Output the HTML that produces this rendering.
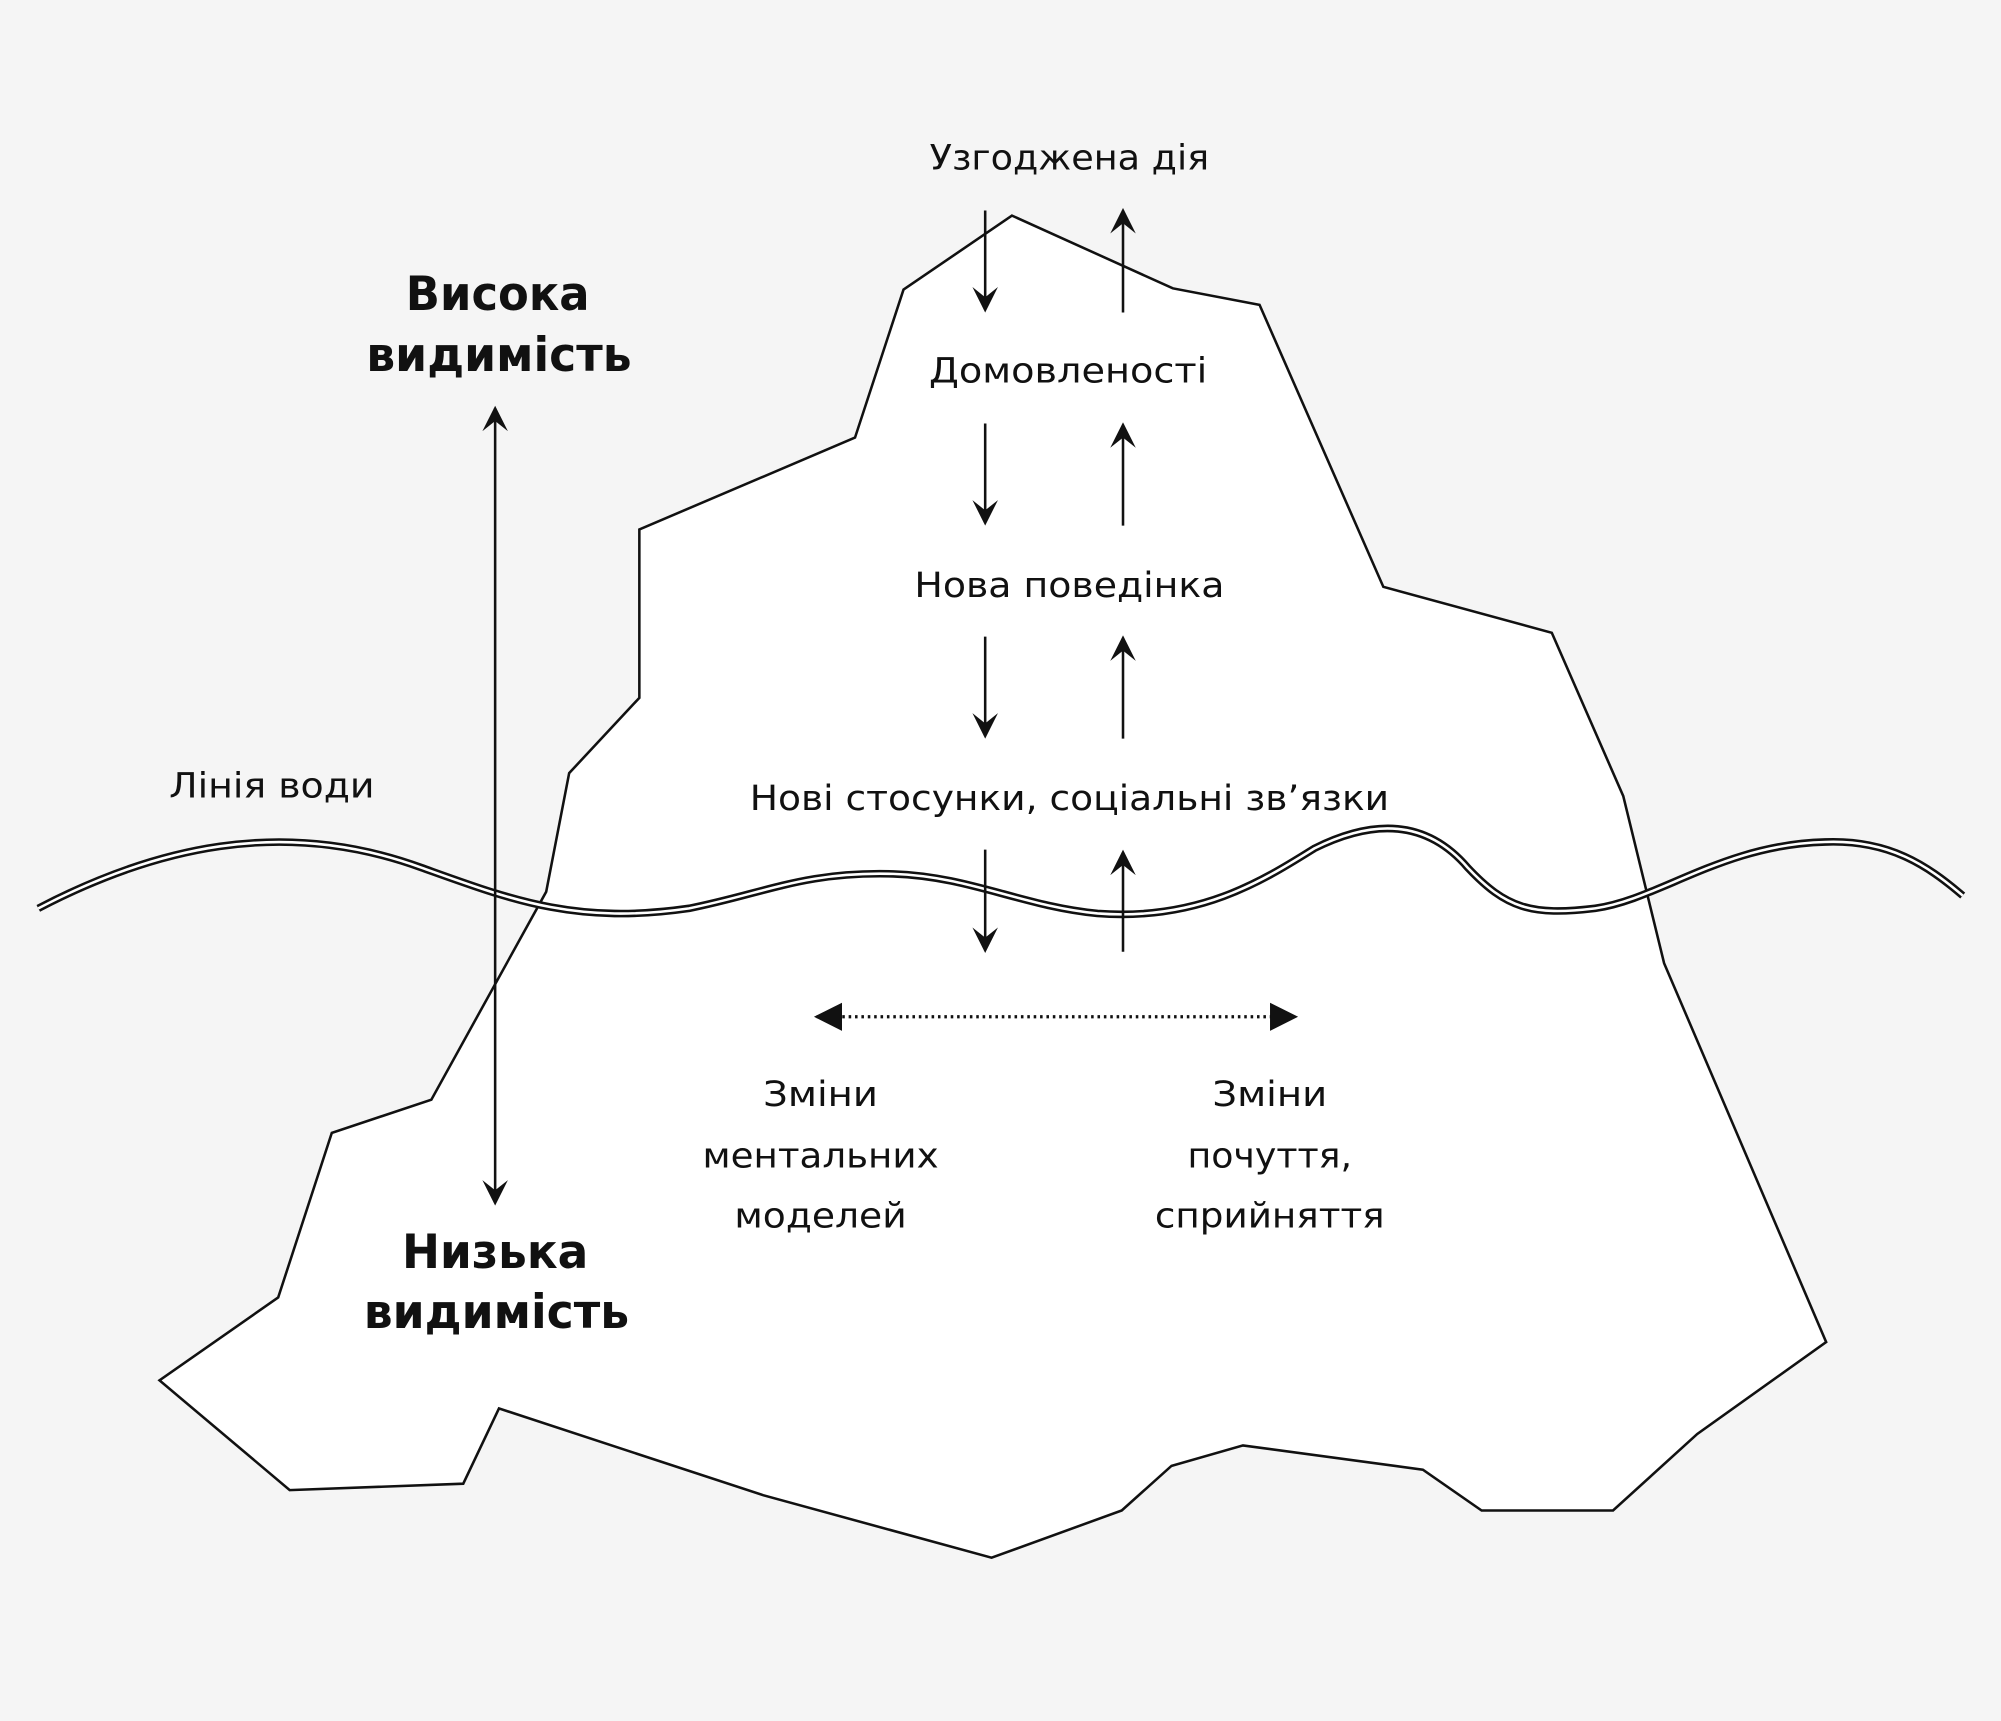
<!DOCTYPE html>
<html><head><meta charset="utf-8"><style>
html,body{margin:0;padding:0;background:#f5f5f5;}
svg{display:block;}
text{font-family:"DejaVu Sans","Liberation Sans",sans-serif;fill:#111;}
</style></head><body>
<svg width="2001" height="1721" viewBox="0 0 1568 1349" preserveAspectRatio="none" xmlns="http://www.w3.org/2000/svg">
<defs>
<marker id="ah2" viewBox="0 0 10 10" refX="9" refY="5" markerWidth="34" markerHeight="22" markerUnits="userSpaceOnUse" orient="auto-start-reverse">
<path d="M0,0 L10,5 L0,10 z" fill="#111"/></marker>
<marker id="ah3" viewBox="0 0 10 10" refX="9" refY="5" markerWidth="20" markerHeight="24" markerUnits="userSpaceOnUse" orient="auto-start-reverse">
<path d="M0,0 L10,5 L0,10 L4,5 z" fill="#111"/></marker>
</defs>
<rect width="1568" height="1349" fill="#f5f5f5"/>
<polygon fill="#fff" stroke="#111" stroke-width="2" points="793,169 919,226 987,239 1084,460 1216,496 1272,624 1304,755 1431,1052 1330,1124 1264,1184 1161,1184 1115,1152 974,1133 918,1149 879,1184 777,1221 598,1172 391,1104 363,1163 227,1168 125,1082 218,1017 260,888 338,862 428,699 446,606 501,547 501,415 670,343 708,227"/>
<g fill="none">
<path d="M30,712 C120,665 220,640 330,680 C400,705 450,725 540,712 C600,700 630,683 700,685 C760,687 800,710 860,716 C940,722 990,690 1030,665 C1080,640 1120,645 1150,680 C1180,712 1200,718 1250,712 C1300,705 1350,662 1430,660 C1480,658 1510,678 1538,702" stroke="#111" stroke-width="6"/>
<path d="M30,712 C120,665 220,640 330,680 C400,705 450,725 540,712 C600,700 630,683 700,685 C760,687 800,710 860,716 C940,722 990,690 1030,665 C1080,640 1120,645 1150,680 C1180,712 1200,718 1250,712 C1300,705 1350,662 1430,660 C1480,658 1510,678 1538,702" stroke="#fff" stroke-width="2"/>
</g>
<g stroke="#111" stroke-width="2" fill="none">
<line x1="388" y1="320" x2="388" y2="943" marker-start="url(#ah3)" marker-end="url(#ah3)"/>
<line x1="772" y1="165" x2="772" y2="243" marker-end="url(#ah3)"/>
<line x1="772" y1="332" x2="772" y2="410" marker-end="url(#ah3)"/>
<line x1="772" y1="499" x2="772" y2="577" marker-end="url(#ah3)"/>
<line x1="772" y1="666" x2="772" y2="745" marker-end="url(#ah3)"/>
<line x1="880" y1="245" x2="880" y2="165" marker-end="url(#ah3)"/>
<line x1="880" y1="412" x2="880" y2="333" marker-end="url(#ah3)"/>
<line x1="880" y1="579" x2="880" y2="500" marker-end="url(#ah3)"/>
<line x1="880" y1="746" x2="880" y2="668" marker-end="url(#ah3)"/>
<line x1="640" y1="797" x2="1015" y2="797" stroke-dasharray="2,3" stroke-width="2.5" marker-start="url(#ah2)" marker-end="url(#ah2)"/>
</g>
<g font-size="27" text-anchor="middle" lengthAdjust="spacingAndGlyphs">
<text x="838" y="133" textLength="219" lengthAdjust="spacingAndGlyphs">Узгоджена дія</text>
<text x="837" y="300" textLength="218" lengthAdjust="spacingAndGlyphs">Домовленості</text>
<text x="838" y="468" textLength="243" lengthAdjust="spacingAndGlyphs">Нова поведінка</text>
<text x="838" y="635" textLength="501" lengthAdjust="spacingAndGlyphs">Нові стосунки, соціальні зв’язки</text>
<text x="213" y="625" textLength="161" lengthAdjust="spacingAndGlyphs">Лінія води</text>
<text x="643" y="867" textLength="90" lengthAdjust="spacingAndGlyphs">Зміни</text>
<text x="643" y="915" textLength="185" lengthAdjust="spacingAndGlyphs">ментальних</text>
<text x="643" y="962" textLength="135" lengthAdjust="spacingAndGlyphs">моделей</text>
<text x="995" y="867" textLength="90" lengthAdjust="spacingAndGlyphs">Зміни</text>
<text x="995" y="915" textLength="129" lengthAdjust="spacingAndGlyphs">почуття,</text>
<text x="995" y="962" textLength="180" lengthAdjust="spacingAndGlyphs">сприйняття</text>
</g>
<g font-size="37" font-weight="bold" text-anchor="middle">
<text x="390" y="243" textLength="144" lengthAdjust="spacingAndGlyphs">Висока</text>
<text x="391" y="291" textLength="208" lengthAdjust="spacingAndGlyphs">видимість</text>
<text x="388" y="994" textLength="146" lengthAdjust="spacingAndGlyphs">Низька</text>
<text x="389" y="1041" textLength="208" lengthAdjust="spacingAndGlyphs">видимість</text>
</g>
</svg>
</body></html>
